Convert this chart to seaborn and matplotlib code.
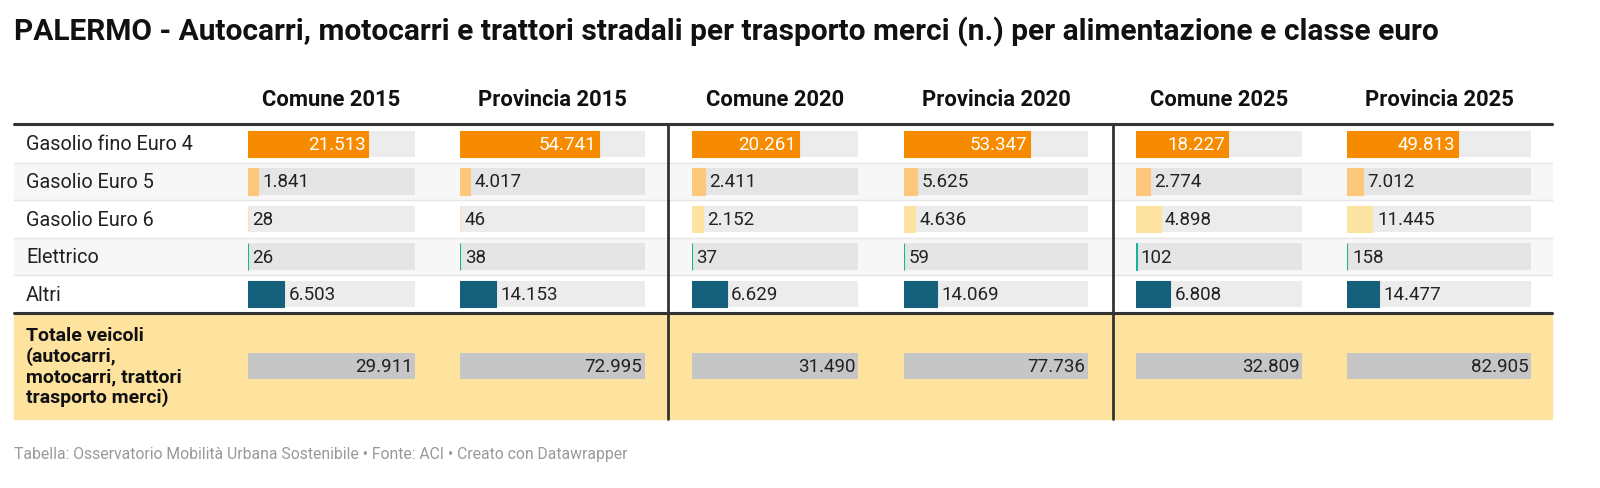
import matplotlib.pyplot as plt
import seaborn as sns

sns.set_theme(style="white")
plt.rcParams['font.family'] = ['Roboto', 'DejaVu Sans']

# ============ 数据 ============
title = 'PALERMO - Autocarri, motocarri e trattori stradali per trasporto merci (n.) per alimentazione e classe euro'
footer = 'Tabella: Osservatorio Mobilità Urbana Sostenibile • Fonte: ACI • Creato con Datawrapper'
rows = ['Gasolio fino Euro 4', 'Gasolio Euro 5', 'Gasolio Euro 6', 'Elettrico', 'Altri']
total_label = 'Totale veicoli\n(autocarri,\nmotocarri, trattori\ntrasporto merci)'
columns = ['Comune 2015', 'Provincia 2015', 'Comune 2020', 'Provincia 2020', 'Comune 2025', 'Provincia 2025']
comune_2015 = [21513, 1841, 28, 26, 6503]
provincia_2015 = [54741, 4017, 46, 38, 14153]
comune_2020 = [20261, 2411, 2152, 37, 6629]
provincia_2020 = [53347, 5625, 4636, 59, 14069]
comune_2025 = [18227, 2774, 4898, 102, 6808]
provincia_2025 = [49813, 7012, 11445, 158, 14477]
totals = [29911, 72995, 31490, 77736, 32809, 82905]
values = [comune_2015, provincia_2015, comune_2020, provincia_2020, comune_2025, provincia_2025]

ROW_COLORS = ['#f78b00', '#fdc77c', '#fde4a3', '#19b39b', '#15607a']
YELLOW = '#fee39f'

# ============ 布局 (像素) ============
W, H = 1600, 489
col_x = [(248, 415), (460, 645), (692, 858), (904, 1088), (1136, 1302), (1347, 1531)]
top, row_h, total_h = 126, 37.6, 106
bottom = top + row_h * 5 + total_h


def fmt(v):
    return f'{v:,}'.replace(',', '.')


fig = plt.figure(figsize=(16, 4.89), dpi=100)
bg = fig.add_axes([0, 0, 1, 1])
bg.set_xlim(0, W)
bg.set_ylim(H, 0)
bg.axis('off')

bg.text(14, 32, title, fontsize=21.5, fontweight='bold', va='center', color='#111')
bg.text(14, 455, footer, fontsize=11.3, color='#999', va='center')

# 行背景
for i, r in enumerate(rows):
    y0 = top + i * row_h
    if i % 2 == 1:
        bg.add_patch(plt.Rectangle((14, y0), 1538, row_h, color='#f7f7f7', zorder=0))
    if i > 0:
        bg.plot([14, 1552], [y0, y0], color='#e6e6e6', lw=1)
    bg.text(26, y0 + row_h / 2, r, fontsize=14.3, va='center', color='#222')
bg.add_patch(plt.Rectangle((14, top + 5 * row_h), 1538, total_h, color=YELLOW, zorder=0))
bg.text(26, top + 5 * row_h + total_h / 2, total_label, fontsize=14, fontweight='bold',
        va='center', color='#111', linespacing=1.15)
bg.plot([14, 1552], [top - 1, top - 1], color='#333', lw=2.2)
bg.plot([14, 1552], [top + 5 * row_h, top + 5 * row_h], color='#333', lw=2.2)
for xv in (668, 1113):
    bg.plot([xv, xv], [top, bottom], color='#333', lw=2)

# ============ 每列条形 ============
ypos = list(range(5))
ytot = 4.5 + total_h / row_h / 2
for c, (name, vals, tot, (x0, x1)) in enumerate(zip(columns, values, totals, col_x)):
    bg.text((x0 + x1) / 2, 100, name, fontsize=15.8, fontweight='bold', ha='center', va='center', color='#111')
    ax = fig.add_axes([x0 / W, 1 - bottom / H, (x1 - x0) / W, (bottom - top) / H])
    ax.set_xlim(0, tot)
    ax.set_ylim(4.5 + total_h / row_h, -0.5)
    ax.axis('off')
    for i, v in enumerate(vals):
        ax.barh(i, tot, height=0.7, color='#e5e5e5' if i % 2 else '#ececec', lw=0)
    ax.barh(ypos, vals, height=0.7, color=ROW_COLORS, edgecolor=ROW_COLORS, lw=0.8)
    ax.barh(ytot, tot, height=26 / row_h, color='#c6c6c6', lw=0)
    for i, v in enumerate(vals):
        if v / tot > 0.4:
            ax.text(v - tot * 0.015, i, fmt(v), ha='right', va='center', color='white', fontsize=13.5)
        else:
            ax.text(v + tot * 0.025, i, fmt(v), ha='left', va='center', color='#222', fontsize=13.5)
    ax.text(tot * 0.985, ytot, fmt(tot), ha='right', va='center', color='#222', fontsize=13.5)

fig.savefig('out.png', dpi=100)
